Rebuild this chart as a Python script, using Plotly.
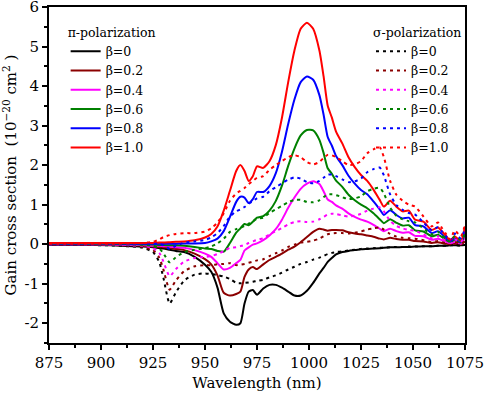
import plotly.graph_objects as go

wavelength = [875, 890, 905, 915, 920, 925, 928, 930, 933, 936, 940, 945, 950, 953, 956, 959, 962, 965, 967, 969,
              971, 973, 975, 978, 981, 984, 987, 990, 993, 996, 999, 1002, 1005, 1007, 1009, 1011, 1013, 1016, 1019, 1022,
              1025, 1028, 1031, 1034, 1036, 1039, 1042, 1045, 1048, 1051, 1055, 1059, 1062, 1064, 1066, 1068, 1070, 1073, 1075]

# pi-polarization, solid lines
pi_b00 = [-0.02, -0.02, -0.03, -0.05, -0.06, -0.08, -0.10, -0.11, -0.14, -0.17, -0.20, -0.32, -0.52, -0.70, -1.10, -1.75, -1.96, -2.04, -2.00, -1.50,
          -1.20, -1.16, -1.28, -1.12, -1.03, -1.03, -1.10, -1.20, -1.30, -1.30, -1.18, -0.98, -0.74, -0.60, -0.45, -0.35, -0.26, -0.20, -0.17, -0.15,
          -0.13, -0.12, -0.11, -0.10, -0.09, -0.08, -0.08, -0.07, -0.07, -0.06, -0.05, -0.05, -0.04, -0.04, -0.04, -0.03, -0.03, -0.03, -0.02]
pi_b02 = [-0.01, -0.01, -0.02, -0.03, -0.04, -0.06, -0.07, -0.08, -0.10, -0.12, -0.15, -0.24, -0.38, -0.51, -0.79, -1.23, -1.30, -1.26, -1.20, -0.83,
          -0.64, -0.58, -0.63, -0.51, -0.40, -0.32, -0.24, -0.14, -0.06, 0.05, 0.18, 0.31, 0.39, 0.37, 0.34, 0.36, 0.36, 0.35, 0.30, 0.27,
          0.25, 0.22, 0.19, 0.14, 0.12, 0.16, 0.13, 0.11, 0.11, 0.08, 0.07, 0.03, 0.05, 0.03, 0.01, 0.00, 0.02, -0.01, 0.07]
pi_b04 = [0.00, 0.00, -0.01, -0.02, -0.02, -0.04, -0.04, -0.05, -0.06, -0.08, -0.09, -0.15, -0.24, -0.32, -0.48, -0.64, -0.60, -0.48, -0.40, -0.16,
          -0.08, -0.01, 0.02, 0.10, 0.22, 0.38, 0.62, 0.92, 1.18, 1.40, 1.53, 1.59, 1.52, 1.34, 1.13, 1.07, 0.98, 0.90, 0.78, 0.69,
          0.62, 0.57, 0.49, 0.39, 0.33, 0.39, 0.33, 0.29, 0.30, 0.21, 0.20, 0.11, 0.14, 0.10, 0.06, 0.02, 0.06, 0.01, 0.17]
pi_b06 = [0.01, 0.01, 0.01, 0.00, -0.01, -0.01, -0.02, -0.02, -0.03, -0.03, -0.04, -0.07, -0.11, -0.12, -0.17, -0.19, 0.03, 0.29, 0.40, 0.51,
          0.48, 0.57, 0.67, 0.71, 0.85, 1.09, 1.48, 1.98, 2.42, 2.75, 2.89, 2.88, 2.64, 2.31, 1.92, 1.78, 1.61, 1.45, 1.25, 1.11,
          1.00, 0.91, 0.78, 0.63, 0.53, 0.63, 0.54, 0.47, 0.48, 0.35, 0.32, 0.20, 0.24, 0.18, 0.10, 0.05, 0.11, 0.04, 0.26]
pi_b08 = [0.02, 0.02, 0.02, 0.01, 0.01, 0.01, 0.01, 0.01, 0.01, 0.01, 0.02, 0.02, 0.03, 0.07, 0.14, 0.33, 0.69, 1.07, 1.20, 1.18,
          1.04, 1.14, 1.32, 1.32, 1.47, 1.79, 2.34, 3.04, 3.66, 4.10, 4.24, 4.16, 3.77, 3.28, 2.71, 2.49, 2.23, 2.00, 1.73, 1.53,
          1.37, 1.26, 1.08, 0.88, 0.74, 0.86, 0.74, 0.65, 0.67, 0.48, 0.45, 0.28, 0.33, 0.25, 0.15, 0.07, 0.15, 0.06, 0.36]
pi_b10 = [0.03, 0.03, 0.03, 0.03, 0.03, 0.03, 0.04, 0.04, 0.05, 0.06, 0.07, 0.10, 0.17, 0.26, 0.45, 0.85, 1.35, 1.85, 2.00, 1.85,
          1.60, 1.72, 1.97, 1.93, 2.10, 2.50, 3.20, 4.10, 4.90, 5.45, 5.60, 5.45, 4.90, 4.25, 3.50, 3.20, 2.85, 2.55, 2.20, 1.95,
          1.75, 1.60, 1.38, 1.12, 0.95, 1.10, 0.95, 0.83, 0.85, 0.62, 0.57, 0.36, 0.42, 0.32, 0.20, 0.10, 0.20, 0.08, 0.45]

# sigma-polarization, dotted lines
sg_b00 = [-0.02, -0.02, -0.03, -0.06, -0.09, -0.20, -0.45, -0.85, -1.50, -1.22, -0.92, -0.77, -0.74, -0.76, -0.78, -0.82, -0.88, -0.98, -0.99, -0.98,
          -0.97, -0.95, -0.93, -0.90, -0.84, -0.79, -0.72, -0.64, -0.57, -0.50, -0.45, -0.39, -0.34, -0.30, -0.25, -0.22, -0.20, -0.18, -0.16, -0.14,
          -0.12, -0.11, -0.10, -0.09, -0.09, -0.08, -0.07, -0.07, -0.06, -0.06, -0.05, -0.05, -0.04, -0.04, -0.04, -0.03, -0.03, -0.03, -0.02]
sg_b02 = [-0.01, -0.01, -0.02, -0.04, -0.07, -0.15, -0.34, -0.64, -1.15, -0.92, -0.68, -0.56, -0.53, -0.53, -0.51, -0.50, -0.48, -0.53, -0.52, -0.50,
          -0.47, -0.44, -0.41, -0.38, -0.30, -0.23, -0.16, -0.07, -0.01, 0.04, 0.06, 0.09, 0.14, 0.20, 0.25, 0.27, 0.28, 0.28, 0.27, 0.29,
          0.32, 0.37, 0.40, 0.42, 0.37, 0.26, 0.19, 0.16, 0.15, 0.14, 0.10, 0.05, 0.08, 0.05, 0.02, 0.00, 0.05, 0.02, 0.08]
sg_b04 = [-0.01, -0.01, -0.01, -0.03, -0.04, -0.10, -0.22, -0.44, -0.81, -0.63, -0.44, -0.35, -0.32, -0.30, -0.25, -0.18, -0.09, -0.08, -0.05, -0.02,
          0.03, 0.07, 0.11, 0.15, 0.25, 0.33, 0.41, 0.50, 0.56, 0.58, 0.56, 0.57, 0.63, 0.69, 0.75, 0.77, 0.76, 0.73, 0.70, 0.72,
          0.77, 0.85, 0.90, 0.93, 0.83, 0.59, 0.46, 0.40, 0.36, 0.34, 0.25, 0.15, 0.20, 0.14, 0.08, 0.03, 0.12, 0.06, 0.19]
sg_b06 = [0.00, 0.00, -0.01, -0.01, -0.02, -0.04, -0.11, -0.23, -0.46, -0.33, -0.20, -0.14, -0.10, -0.06, 0.02, 0.14, 0.31, 0.38, 0.41, 0.46,
          0.52, 0.58, 0.64, 0.67, 0.79, 0.88, 0.97, 1.06, 1.12, 1.12, 1.07, 1.06, 1.11, 1.19, 1.26, 1.26, 1.24, 1.19, 1.14, 1.16,
          1.21, 1.34, 1.40, 1.43, 1.28, 0.93, 0.72, 0.63, 0.58, 0.55, 0.40, 0.25, 0.31, 0.22, 0.13, 0.06, 0.20, 0.11, 0.29]
sg_b08 = [0.00, 0.00, 0.00, 0.00, 0.01, 0.01, 0.01, -0.03, -0.12, -0.04, 0.04, 0.07, 0.11, 0.17, 0.28, 0.46, 0.70, 0.83, 0.88, 0.94,
          1.02, 1.09, 1.16, 1.20, 1.34, 1.44, 1.54, 1.63, 1.69, 1.66, 1.57, 1.54, 1.60, 1.68, 1.76, 1.76, 1.72, 1.64, 1.57, 1.59,
          1.66, 1.82, 1.90, 1.94, 1.74, 1.26, 0.99, 0.87, 0.79, 0.75, 0.55, 0.35, 0.43, 0.31, 0.19, 0.09, 0.27, 0.15, 0.40]
sg_b10 = [0.01, 0.01, 0.01, 0.02, 0.03, 0.06, 0.12, 0.18, 0.23, 0.26, 0.28, 0.28, 0.32, 0.40, 0.55, 0.78, 1.10, 1.28, 1.35, 1.42,
          1.52, 1.60, 1.68, 1.72, 1.88, 2.00, 2.10, 2.20, 2.25, 2.20, 2.08, 2.02, 2.08, 2.18, 2.26, 2.25, 2.20, 2.10, 2.00, 2.02,
          2.10, 2.30, 2.40, 2.45, 2.20, 1.60, 1.25, 1.10, 1.00, 0.95, 0.70, 0.45, 0.55, 0.40, 0.25, 0.12, 0.35, 0.20, 0.50]

beta_labels = ["β=0", "β=0.2", "β=0.4", "β=0.6", "β=0.8", "β=1.0"]
colors = ["#000000", "#8B0000", "#FF00FF", "#008000", "#0000FF", "#FF0000"]

x_ticks = [875, 900, 925, 950, 975, 1000, 1025, 1050, 1075]
y_ticks = [-2, -1, 0, 1, 2, 3, 4, 5, 6]
y_ticktext = ["-2", "-1", "0", "1", "2", "3", "4", "5", "6"]

FONT = "DejaVu Serif"

fig = go.Figure()
pi_series = [pi_b00, pi_b02, pi_b04, pi_b06, pi_b08, pi_b10]
sg_series = [sg_b00, sg_b02, sg_b04, sg_b06, sg_b08, sg_b10]

for ys, lab, c in zip(pi_series, beta_labels, colors):
    fig.add_trace(go.Scatter(x=wavelength, y=ys, mode="lines", name=lab,
                             line=dict(color=c, width=2, shape="spline", smoothing=0.6),
                             legend="legend"))
for ys, lab, c in zip(sg_series, beta_labels, colors):
    fig.add_trace(go.Scatter(x=wavelength, y=ys, mode="lines", name=lab,
                             line=dict(color=c, width=2, dash="3px,4px", shape="spline", smoothing=0.6),
                             legend="legend2"))

axis_common = dict(showline=True, linecolor="black", linewidth=2, mirror=True,
                   ticks="outside", tickcolor="black", tickwidth=1.5, ticklen=5,
                   showgrid=False, zeroline=False, automargin=False,
                   tickfont=dict(family=FONT, size=15, color="black"))

fig.update_xaxes(range=[875, 1075], tickvals=x_ticks, ticklabeloverflow="allow",
                 minor=dict(dtick=12.5, ticks="outside", ticklen=3, tickwidth=1.5, tickcolor="black", tick0=875),
                 title=dict(text="Wavelength (nm)", font=dict(family=FONT, size=15, color="black"), standoff=6),
                 **axis_common)
fig.update_yaxes(range=[-2.5, 6], tickvals=y_ticks, ticktext=y_ticktext, ticklabeloverflow="allow",
                 minor=dict(dtick=0.5, ticks="outside", ticklen=3, tickwidth=1.5, tickcolor="black", tick0=0),
                 title=dict(text="Gain cross section  (10<sup>−20</sup> cm<sup>2</sup> )",
                            font=dict(family=FONT, size=15, color="black"), standoff=4),
                 **axis_common)

legend_common = dict(bgcolor="rgba(0,0,0,0)", borderwidth=0, itemwidth=30,
                     font=dict(family=FONT, size=12.5, color="black"),
                     xanchor="left", yanchor="top", tracegroupgap=0, itemclick=False)

fig.update_layout(
    width=484, height=394,
    margin=dict(l=49, r=19, t=7, b=51),
    paper_bgcolor="white", plot_bgcolor="white",
    showlegend=True,
    legend=dict(x=0.040, y=0.96, title=dict(text="π-polarization", font=dict(family=FONT, size=12.5, color="black")),
                **legend_common),
    legend2=dict(x=0.774, y=0.96, title=dict(text="σ-polarization", font=dict(family=FONT, size=12.5, color="black")),
                 **legend_common),
)

fig.write_html("out.html", config={"displayModeBar": False},
               post_script="document.body.style.margin='0';document.body.style.overflow='hidden';")
